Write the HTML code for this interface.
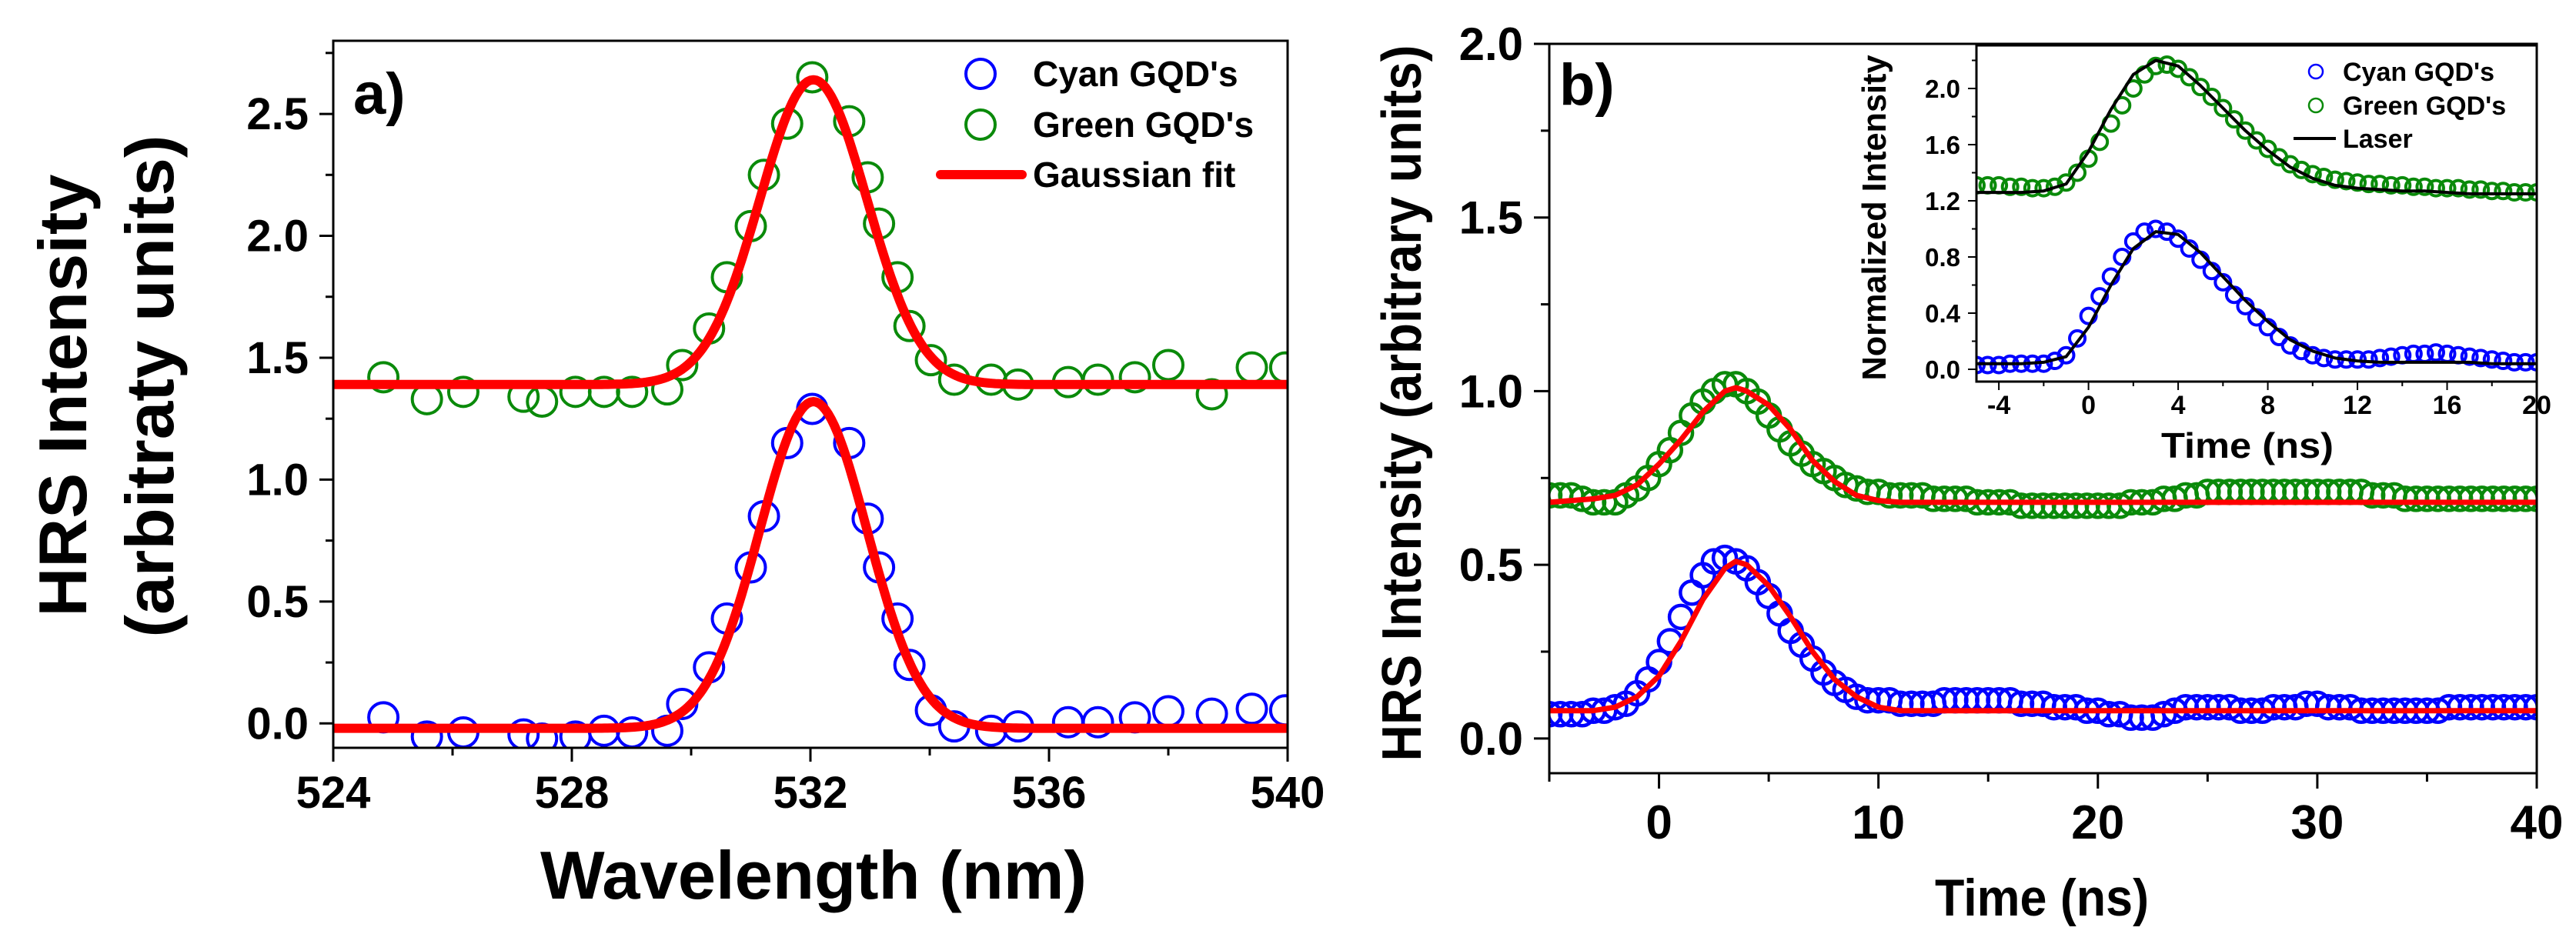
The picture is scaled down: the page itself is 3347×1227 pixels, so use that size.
<!DOCTYPE html>
<html><head><meta charset="utf-8"><style>
html,body{margin:0;padding:0;background:#fff;}
svg{display:block;}
text{font-family:"Liberation Sans",Arial,sans-serif;font-weight:bold;fill:#000;}
.n{font-family:"Liberation Sans Narrow","Liberation Sans",sans-serif;}
</style></head><body>
<svg id="fig" width="3347" height="1227" viewBox="0 0 3347 1227" xmlns="http://www.w3.org/2000/svg">
<g id="pa"></g>
<g id="pb"></g>
<g id="pi"></g>
</svg>
<script>
// ---------- Panel a data ----------
const aGreenX=[524.84,525.57,526.18,527.19,527.5,528.06,528.54,529.01,529.6,529.85,530.3,530.6,531.0,531.22,531.61,532.03,532.65,532.96,533.15,533.46,533.66,534.02,534.41,535.03,535.48,536.32,536.82,537.44,538.0,538.73,539.4,539.96];
const aGreenY=[1.42,1.33,1.36,1.34,1.32,1.36,1.36,1.36,1.37,1.47,1.62,1.83,2.04,2.25,2.46,2.65,2.47,2.24,2.05,1.83,1.63,1.49,1.41,1.41,1.39,1.40,1.41,1.42,1.47,1.35,1.46,1.46];
const aCyanX=aGreenX.slice();
const aCyanY=[0.025,-0.054,-0.037,-0.045,-0.062,-0.054,-0.03,-0.037,-0.03,0.08,0.23,0.43,0.64,0.85,1.15,1.29,1.15,0.84,0.64,0.43,0.24,0.054,-0.012,-0.03,-0.012,0.005,0.005,0.025,0.05,0.04,0.06,0.054];
const aFitCenter=[532.05,532.05];
const aFitSigma=[0.9,0.9];
const aFitBase=[1.39,-0.02];
const aFitAmp=[1.25,1.34];
const aXTicks=[524,528,532,536,540];
const aYTicks=[0.0,0.5,1.0,1.5,2.0,2.5];
const aYTickLabels=["0.0","0.5","1.0","1.5","2.0","2.5"];

// ---------- Panel b data ----------
const bGreen=[0.70,0.70,0.70,0.69,0.68,0.68,0.68,0.70,0.72,0.75,0.79,0.83,0.88,0.93,0.97,1.00,1.02,1.02,1.00,0.97,0.93,0.89,0.85,0.82,0.79,0.77,0.75,0.73,0.72,0.71,0.71,
0.70,0.70,0.70,0.70,0.69,0.69,0.69,0.69,0.68,0.68,0.68,0.68,0.67,0.67,0.67,0.67,0.67,0.67,0.67,0.67,
0.67,0.67,0.68,0.68,0.68,0.69,0.69,0.70,0.70,0.71,0.71,0.71,0.71,0.71,0.71,0.71,0.71,0.71,0.71,0.71,
0.71,0.71,0.71,0.71,0.70,0.70,0.70,0.69,0.69,0.69,0.69,0.69,0.69,0.69,0.69,0.69,0.69,0.69,0.69,0.69];
const bCyan=[0.07,0.07,0.07,0.07,0.08,0.08,0.09,0.10,0.13,0.17,0.22,0.28,0.35,0.42,0.47,0.51,0.52,0.51,0.49,0.45,0.41,0.36,0.31,0.27,0.23,0.19,0.16,0.14,0.12,0.11,0.11,
0.11,0.10,0.10,0.10,0.10,0.11,0.11,0.11,0.11,0.11,0.11,0.11,0.10,0.10,0.10,0.09,0.09,0.09,0.08,0.08,
0.07,0.07,0.06,0.06,0.06,0.07,0.08,0.09,0.09,0.09,0.09,0.09,0.08,0.08,0.08,0.09,0.09,0.09,0.10,0.10,
0.09,0.09,0.09,0.08,0.08,0.08,0.08,0.08,0.08,0.08,0.08,0.09,0.09,0.09,0.09,0.09,0.09,0.09,0.09,0.09];
const bTimeStart=-5, bTimeStep=0.5;
const bFitT=[-5,-3,-2,-1,0,1,2,3,3.5,4,5,6,7,8,9,10,11,40];
const bFitGreen=[0.68,0.69,0.70,0.73,0.79,0.86,0.94,1.00,1.01,1.00,0.96,0.89,0.80,0.74,0.70,0.685,0.68,0.68];
const bFitCyan=[0.08,0.08,0.09,0.12,0.18,0.28,0.40,0.49,0.51,0.50,0.44,0.35,0.25,0.17,0.12,0.09,0.08,0.08];
const bXTicks=[0,10,20,30,40];
const bYTicks=[0.0,0.5,1.0,1.5,2.0];
const bYTickLabels=["0.0","0.5","1.0","1.5","2.0"];

// ---------- Inset data ----------
const iCyan=[0.03,0.03,0.03,0.04,0.04,0.04,0.04,0.06,0.10,0.22,0.38,
0.52,0.66,0.80,0.91,0.98,1.00,0.98,0.93,0.86,0.78,0.70,0.62,0.53,0.45,0.37,0.30,0.23,0.17,0.13,0.10,
0.08,0.07,0.07,0.07,0.07,0.08,0.09,0.10,0.11,0.11,0.12,0.11,0.10,0.09,0.08,0.07,0.06,0.05,0.05,0.05];
const iGreen=[1.31,1.31,1.31,1.30,1.30,1.29,1.29,1.30,1.33,1.40,1.50,
1.62,1.75,1.88,2.00,2.10,2.16,2.17,2.14,2.08,2.01,1.94,1.86,1.78,1.70,1.63,1.57,1.51,1.46,1.42,1.39,
1.37,1.35,1.34,1.33,1.32,1.32,1.31,1.31,1.30,1.30,1.29,1.29,1.29,1.28,1.28,1.27,1.27,1.26,1.26,1.26];
const iLaserT=[-5,-4,-3,-2,-1,0,1,2,3,4,5,6,7,8,9,10,11,12,13,14,15,16,17,18,19,20];
const iLaserLow=[0.04,0.04,0.04,0.05,0.09,0.30,0.60,0.86,0.98,0.96,0.83,0.66,0.49,0.34,0.21,0.13,0.08,0.06,0.05,0.05,0.05,0.05,0.05,0.04,0.04,0.04];
const iLaserHigh=[1.26,1.26,1.26,1.27,1.32,1.55,1.85,2.10,2.20,2.16,2.02,1.86,1.70,1.56,1.44,1.36,1.31,1.29,1.28,1.27,1.27,1.26,1.25,1.25,1.25,1.25];
const iXTicks=[-4,0,4,8,12,16,20];
const iYTicks=[0.0,0.4,0.8,1.2,1.6,2.0];
const iYTickLabels=["0.0","0.4","0.8","1.2","1.6","2.0"];

const NS="http://www.w3.org/2000/svg";
function mk(parent,tag,attrs,txt){const e=document.createElementNS(NS,tag);for(const k in attrs)e.setAttribute(k,attrs[k]);if(txt!==undefined)e.textContent=txt;parent.appendChild(e);return e;}
function lin(d0,d1,r0,r1){return v=>r0+(v-d0)*(r1-r0)/(d1-d0);}

// ===== Panel A =====
const pa=document.getElementById('pa');
const ax=lin(524,540,433,1673), ay=lin(-0.1,2.8,972,53);
let defs=mk(document.getElementById('fig'),'defs',{});
let cpA=mk(defs,'clipPath',{id:'clipA'});mk(cpA,'rect',{x:433,y:53,width:1240,height:919});
let cpB=mk(defs,'clipPath',{id:'clipB'});mk(cpB,'rect',{x:2013,y:57,width:1283,height:948});
let cpI=mk(defs,'clipPath',{id:'clipI'});mk(cpI,'rect',{x:2568,y:59,width:728,height:437});

let gA=mk(pa,'g',{'clip-path':'url(#clipA)'});


function drawCirclesA(xs,ys,color,name){
  for(let i=0;i<xs.length;i++){
    const c=mk(gA,'circle',{cx:ax(xs[i]),cy:ay(ys[i]),r:19,fill:'none',stroke:color,'stroke-width':4});
    
    
  }
}
drawCirclesA(aGreenX,aGreenY,'#0a8a0a','green-gqd-point');
drawCirclesA(aCyanX,aCyanY,'#0000ff','cyan-gqd-point');
for(let k=0;k<2;k++){
  let pts=[];
  for(let w=524;w<=540.001;w+=0.05){const v=aFitBase[k]+aFitAmp[k]*Math.exp(-Math.pow(w-aFitCenter[k],2)/(2*aFitSigma[k]*aFitSigma[k]));pts.push(ax(w).toFixed(1)+','+ay(v).toFixed(1));}
  const p=mk(gA,'polyline',{points:pts.join(' '),fill:'none',stroke:'#ff0000','stroke-width':12,'stroke-linejoin':'round'});
  
  
}
let boxA=mk(pa,'rect',{x:433,y:53,width:1240,height:919,fill:'none',stroke:'#000','stroke-width':3});


for(let w=524;w<=540;w+=2){const maj=(w%4===0);const t=mk(pa,'line',{x1:ax(w),x2:ax(w),y1:972,y2:972+(maj?18:10),stroke:'#000','stroke-width':3});

}
aXTicks.forEach(v=>{const t=mk(pa,'text',{x:ax(v),y:1050,'font-size':58,'text-anchor':'middle',class:'n'},String(v));

});
for(let i=0;i<=11;i++){const v=i*0.25;const maj=(i%2===0);const t=mk(pa,'line',{x1:433,x2:433-(maj?18:10),y1:ay(v),y2:ay(v),stroke:'#000','stroke-width':3});

}
aYTicks.forEach((v,i)=>{const t=mk(pa,'text',{x:401,y:ay(v)+20,'font-size':58,'text-anchor':'end',class:'n'},aYTickLabels[i]);

});
let t;
t=mk(pa,'text',{x:1057,y:1168,'font-size':88,'text-anchor':'middle',textLength:710,lengthAdjust:'spacingAndGlyphs'},'Wavelength (nm)');


t=mk(pa,'text',{transform:'translate(112,514) rotate(-90)','font-size':88,'text-anchor':'middle',textLength:575,lengthAdjust:'spacingAndGlyphs'},'HRS Intensity');


t=mk(pa,'text',{transform:'translate(225,502) rotate(-90)','font-size':88,'text-anchor':'middle',textLength:653,lengthAdjust:'spacingAndGlyphs'},'(arbitraty units)');


t=mk(pa,'text',{x:459,y:148,'font-size':76},'a)');


// legend a
let lg=mk(pa,'g',{});


let le;
le=mk(lg,'circle',{cx:1274,cy:96,r:19,fill:'none',stroke:'#0000ff','stroke-width':4});


le=mk(lg,'circle',{cx:1274,cy:162,r:19,fill:'none',stroke:'#0a8a0a','stroke-width':4});


le=mk(lg,'line',{x1:1222,x2:1328,y1:227,y2:227,stroke:'#ff0000','stroke-width':12,'stroke-linecap':'round'});


[["Cyan GQD's",96],["Green GQD's",162],["Gaussian fit",227]].forEach(r=>{const e=mk(lg,'text',{x:1342,y:r[1]+16,'font-size':46},r[0]);

});

// ===== Panel B =====
const pb=document.getElementById('pb');
const bx=lin(-5,40,2013,3296), by=lin(-0.1,2.0,1005,57);
let gB=mk(pb,'g',{'clip-path':'url(#clipB)'});


function drawSeriesB(vals,color,name){
  vals.forEach((v,i)=>{const tt=bTimeStart+i*bTimeStep;
    const c=mk(gB,'circle',{cx:bx(tt),cy:by(v),r:15,fill:'none',stroke:color,'stroke-width':4.5});
    
    
  });
}
drawSeriesB(bGreen,'#0a8a0a','green-gqd-point');
drawSeriesB(bCyan,'#0000ff','cyan-gqd-point');
[[bFitGreen,'green-fit-b'],[bFitCyan,'cyan-fit-b']].forEach(f=>{
  const pts=bFitT.map((tt,i)=>bx(tt).toFixed(1)+','+by(f[0][i]).toFixed(1)).join(' ');
  const p=mk(gB,'polyline',{points:pts,fill:'none',stroke:'#ff0000','stroke-width':7,'stroke-linejoin':'round'});
  
  
});
let boxB=mk(pb,'rect',{x:2013,y:57,width:1283,height:948,fill:'none',stroke:'#000','stroke-width':3});


for(let v=-5;v<=40;v+=5){const maj=(v%10===0);const e=mk(pb,'line',{x1:bx(v),x2:bx(v),y1:1005,y2:1005+(maj?20:11),stroke:'#000','stroke-width':3});

}
bXTicks.forEach(v=>{const e=mk(pb,'text',{x:bx(v),y:1090,'font-size':62,'text-anchor':'middle',class:'n'},String(v));

});
for(let i=0;i<=8;i++){const v=i*0.25;const maj=(i%2===0);const e=mk(pb,'line',{x1:2013,x2:2013-(maj?20:11),y1:by(v),y2:by(v),stroke:'#000','stroke-width':3});

}
bYTicks.forEach((v,i)=>{const e=mk(pb,'text',{x:1979,y:by(v)+21,'font-size':60,'text-anchor':'end',class:'n'},bYTickLabels[i]);

});
t=mk(pb,'text',{x:2653,y:1190,'font-size':68,'text-anchor':'middle',textLength:278,lengthAdjust:'spacingAndGlyphs'},'Time (ns)');


t=mk(pb,'text',{transform:'translate(1846,524) rotate(-90)','font-size':72,'text-anchor':'middle',textLength:931,lengthAdjust:'spacingAndGlyphs'},'HRS Intensity (arbitrary units)');


t=mk(pb,'text',{x:2026,y:136,'font-size':76},'b)');



// ===== Inset =====
const pi=document.getElementById('pi');
const ix=lin(-5,20,2568,3296), iy=lin(0,2.0,480,115);
mk(pi,'rect',{x:2568,y:59,width:728,height:437,fill:'#fff'});
let gI=mk(pi,'g',{'clip-path':'url(#clipI)'});


function drawSeriesI(vals,color,name){
  vals.forEach((v,i)=>{const tt=-5+i*0.5;
    const c=mk(gI,'circle',{cx:ix(tt),cy:iy(v),r:10,fill:'none',stroke:color,'stroke-width':4});
    
    
  });
}
drawSeriesI(iGreen,'#0a8a0a','inset-green-point');
drawSeriesI(iCyan,'#0000ff','inset-cyan-point');
[[iLaserHigh,'laser-line-upper'],[iLaserLow,'laser-line-lower']].forEach(f=>{
  const pts=iLaserT.map((tt,i)=>ix(tt).toFixed(1)+','+iy(f[0][i]).toFixed(1)).join(' ');
  const p=mk(gI,'polyline',{points:pts,fill:'none',stroke:'#000','stroke-width':4,'stroke-linejoin':'round'});
  
  
});
let boxI=mk(pi,'rect',{x:2568,y:59,width:728,height:437,fill:'none',stroke:'#000','stroke-width':3});


for(let v=-4;v<=20;v+=2){const maj=(v%4===0);const e=mk(pi,'line',{x1:ix(v),x2:ix(v),y1:496,y2:496+(maj?11:6),stroke:'#000','stroke-width':2});

}
iXTicks.forEach(v=>{const e=mk(pi,'text',{x:ix(v),y:538,'font-size':34,'text-anchor':'middle'},String(v));

});
for(let i=0;i<=11;i++){const v=i*0.2;const maj=(i%2===0);const e=mk(pi,'line',{x1:2568,x2:2568-(maj?11:6),y1:iy(v),y2:iy(v),stroke:'#000','stroke-width':2});

}
iYTicks.forEach((v,i)=>{const e=mk(pi,'text',{x:2547,y:iy(v)+12,'font-size':33,'text-anchor':'end'},iYTickLabels[i]);

});
t=mk(pi,'text',{x:2920,y:595,'font-size':46,'text-anchor':'middle',textLength:224,lengthAdjust:'spacingAndGlyphs'},'Time (ns)');


t=mk(pi,'text',{transform:'translate(2450,283) rotate(-90)','font-size':44,'text-anchor':'middle',textLength:423,lengthAdjust:'spacingAndGlyphs'},'Normalized Intensity');


let li=mk(pi,'g',{});


le=mk(li,'circle',{cx:3009,cy:93,r:9,fill:'none',stroke:'#0000ff','stroke-width':2.5});


le=mk(li,'circle',{cx:3009,cy:137,r:9,fill:'none',stroke:'#0a8a0a','stroke-width':2.5});


le=mk(li,'line',{x1:2980,x2:3035,y1:180,y2:180,stroke:'#000','stroke-width':4});


[["Cyan GQD's",93],["Green GQD's",137],["Laser",180]].forEach(r=>{const e=mk(li,'text',{x:3044,y:r[1]+12,'font-size':34},r[0]);

});
</script>
</body></html>
